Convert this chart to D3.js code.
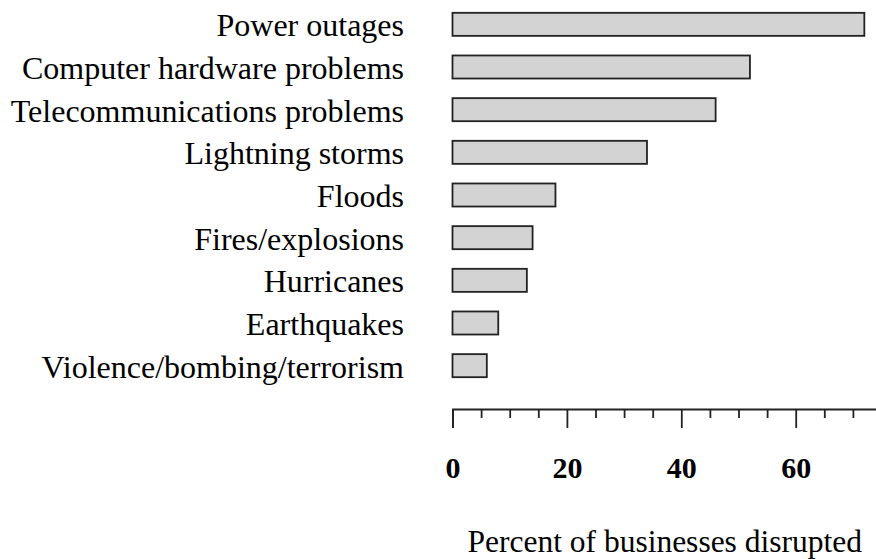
<!DOCTYPE html>
<html>
<head>
<meta charset="utf-8">
<script src="https://cdn.jsdelivr.net/npm/d3@7"></script>
<style>
    body { margin: 0; background: #fff; }
    svg { display: block; }
</style>
</head>
<body>
<div id="chart"></div>
<script>
var categories = [
    "Power outages",
    "Computer hardware problems",
    "Telecommunications problems",
    "Lightning storms",
    "Floods",
    "Fires/explosions",
    "Hurricanes",
    "Earthquakes",
    "Violence/bombing/terrorism"
];
var values = [72, 52, 46, 34, 18, 14, 13, 8, 6];
var major_ticks = [0, 20, 40, 60];
var minor_ticks = [5, 10, 15, 25, 30, 35, 45, 50, 55, 65, 70];
var axis_title = "Percent of businesses disrupted";

var width = 876;
var height = 559;
var font = "'Liberation Serif', 'Times New Roman', serif";

var svg = d3.select("#chart")
    .append("svg")
    .attr("width", width)
    .attr("height", height);

var data = categories.map(function(c, i) { return {name: c, value: values[i]}; });

// x scale runs a bit past the right edge, the axis line gets clipped there
var x = d3.scaleLinear()
    .domain([0, 75])
    .range([452.5, 881.5]);

var y = d3.scaleBand()
    .domain(categories)
    .range([3, 387])
    .paddingInner(0.46)
    .paddingOuter(0.23);

// category labels
svg.append("g")
    .selectAll("text")
    .data(data)
    .enter()
    .append("text")
    .attr("x", 404)
    .attr("y", function(d) { return y(d.name) + y.bandwidth() / 2; })
    .attr("dy", "0.37em")
    .attr("text-anchor", "end")
    .style("font-family", font)
    .style("font-size", "32px")
    .style("fill", "#000")
    .text(function(d) { return d.name; });

// bars
svg.append("g")
    .selectAll("rect")
    .data(data)
    .enter()
    .append("rect")
    .attr("x", x(0))
    .attr("y", function(d) { return y(d.name); })
    .attr("width", function(d) { return x(d.value) - x(0); })
    .attr("height", y.bandwidth())
    .style("fill", "#d3d3d3")
    .style("stroke", "#222")
    .style("stroke-width", 1.8);

// x axis: major ticks
var axis_y = 409;
var axis_major = svg.append("g")
    .attr("transform", "translate(0," + axis_y + ")")
    .call(d3.axisBottom(x)
        .tickValues(major_ticks)
        .tickSize(19)
        .tickPadding(29)
        .tickFormat(d3.format("d")));

axis_major.select(".domain")
    .attr("stroke", "#222")
    .attr("stroke-width", 1.8);
axis_major.selectAll(".tick line")
    .attr("stroke", "#222")
    .attr("stroke-width", 1.8);
axis_major.selectAll(".tick text")
    .style("font-family", font)
    .style("font-size", "30px")
    .style("font-weight", "bold")
    .attr("fill", "#000");

// minor ticks
svg.append("g")
    .attr("transform", "translate(0," + axis_y + ")")
    .call(d3.axisBottom(x)
        .tickValues(minor_ticks)
        .tickSize(9)
        .tickFormat(""))
    .call(function(g) { g.select(".domain").remove(); })
    .selectAll(".tick line")
    .attr("stroke", "#222")
    .attr("stroke-width", 1.8);

// axis title
svg.append("text")
    .attr("x", 862)
    .attr("y", 552)
    .attr("text-anchor", "end")
    .style("font-family", font)
    .style("font-size", "31.5px")
    .style("fill", "#000")
    .text(axis_title);
</script>
</body>
</html>
